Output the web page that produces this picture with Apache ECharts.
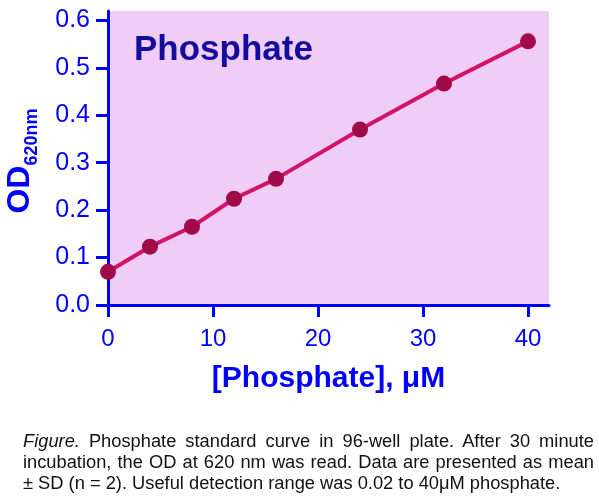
<!DOCTYPE html>
<html>
<head>
<meta charset="utf-8">
<script src="https://cdn.jsdelivr.net/npm/echarts@6/dist/echarts.min.js"></script>
<style>
  html, body { margin: 0; padding: 0; background: #fff; }
  #wrap { position: relative; width: 599px; height: 504px; }
  #chart { position: absolute; left: 0; top: 0; width: 599px; height: 504px; }
  #caption { position: absolute; left: 23px; top: 430px; width: 571px;
    font-family: "Liberation Sans", Arial, sans-serif; font-size: 18.3px; line-height: 21px; color: #111; }
  #caption div { white-space: nowrap; }
  #caption .j { text-align: justify; text-align-last: justify; }
</style>
</head>
<body>
<div id="wrap">
  <div id="chart"></div>
  <div id="caption">
    <div class="j"><i>Figure.</i> Phosphate standard curve in 96-well plate. After 30 minute</div>
    <div class="j">incubation, the OD at 620 nm was read. Data are presented as mean</div>
    <div>± SD (n = 2). Useful detection range was 0.02 to 40μM phosphate.</div>
  </div>
</div>
<script>
var concentration = [0, 4, 8, 12, 16, 24, 32, 40];
var od620 = [0.070, 0.123, 0.165, 0.224, 0.266, 0.370, 0.467, 0.556];
var xTicks = [0, 10, 20, 30, 40];
var yTicks = [0, 0.1, 0.2, 0.3, 0.4, 0.5, 0.6];

var blue = '#0000ff';
var myChart = echarts.init(document.getElementById('chart'));

var points = [];
for (var i = 0; i < concentration.length; i++) {
    points.push([concentration[i], od620[i]]);
}

var option = {
    animation: false,
    textStyle: { fontFamily: 'Liberation Sans, Arial, sans-serif' },
    title: {
        text: 'Phosphate',
        left: 129,
        top: 28,
        textStyle: { color: '#140c9c', fontSize: 35, fontWeight: 'bold', fontFamily: 'Liberation Sans' }
    },
    grid: {
        left: 108, right: 50, top: 11, bottom: 199,
        show: true, backgroundColor: '#efcdf7', borderWidth: 0,
        outerBoundsMode: 'none'
    },
    xAxis: {
        type: 'value',
        min: 0, max: 42,
        name: '[Phosphate], μM',
        nameLocation: 'middle',
        nameGap: 59,
        nameTextStyle: { color: blue, fontSize: 30, fontWeight: 'bold' },
        axisLine: { show: true, onZero: false, lineStyle: { color: blue, width: 3 } },
        axisTick: { show: true, length: 12, customValues: xTicks, lineStyle: { color: blue, width: 3 } },
        axisLabel: { customValues: xTicks, margin: 22, color: blue, fontSize: 24 },
        splitLine: { show: false }
    },
    yAxis: {
        type: 'value',
        min: 0, max: 0.62,
        name: '{a|OD}{b|620nm}',
        nameLocation: 'middle',
        nameGap: 72,
        nameTextStyle: {
            color: blue,
            padding: [0, 6, 0, 0],
            rich: {
                a: { color: blue, fontSize: 32, fontWeight: 'bold', lineHeight: 32, verticalAlign: 'top' },
                b: { color: blue, fontSize: 18, fontWeight: 'bold', lineHeight: 18, verticalAlign: 'top', padding: [19, 0, 0, 0] }
            }
        },
        axisLine: { show: true, lineStyle: { color: blue, width: 3 } },
        axisTick: { show: true, length: 12, customValues: yTicks, lineStyle: { color: blue, width: 3 } },
        axisLabel: {
            customValues: yTicks, margin: 18, color: blue, fontSize: 25,
            formatter: function (v) { return v.toFixed(1); }
        },
        splitLine: { show: false }
    },
    series: [{
        type: 'line',
        data: points,
        symbol: 'circle',
        symbolSize: 16,
        lineStyle: { color: '#d11466', width: 4 },
        itemStyle: { color: '#a00a48' },
        z: 3
    }]
};
myChart.setOption(option);
</script>
</body>
</html>
